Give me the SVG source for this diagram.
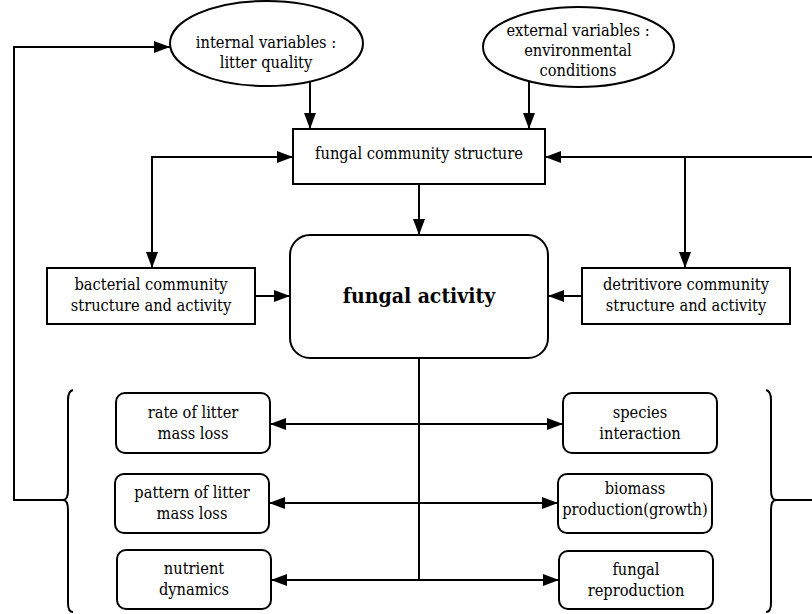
<svg xmlns="http://www.w3.org/2000/svg" width="812" height="614" viewBox="0 0 812 614">
<style>
.shape{fill:#fff;stroke:#000;stroke-width:2}
.ln{fill:none;stroke:#000;stroke-width:2}
</style>
<defs>
<marker id="ah" viewBox="0 0 16 12" markerWidth="16" markerHeight="12" refX="16" refY="6" markerUnits="userSpaceOnUse" orient="auto-start-reverse">
<path d="M0,0 L16,6 L0,12 Z" fill="#000"/>
</marker>
</defs>
<rect width="812" height="614" fill="#fff"/>
<g id="connectors">
<path class="ln" d="M63,500 L14,500 L14,47 L170,47" marker-end="url(#ah)"/>
<path class="ln" d="M310,82 L310,129" marker-end="url(#ah)"/>
<path class="ln" d="M529,81 L529,129" marker-end="url(#ah)"/>
<path class="ln" d="M293,157 L152,157 L152,268" marker-start="url(#ah)" marker-end="url(#ah)"/>
<path class="ln" d="M812,157 L545,157" marker-end="url(#ah)"/>
<path class="ln" d="M685,157 L685,268" marker-end="url(#ah)"/>
<path class="ln" d="M419,184 L419,235" marker-end="url(#ah)"/>
<path class="ln" d="M255,296 L290,296" marker-end="url(#ah)"/>
<path class="ln" d="M582,296 L548,296" marker-end="url(#ah)"/>
<path class="ln" d="M419,358 L419,580"/>
<path class="ln" d="M270,424 L563,424" marker-start="url(#ah)" marker-end="url(#ah)"/>
<path class="ln" d="M269,503 L558,503" marker-start="url(#ah)" marker-end="url(#ah)"/>
<path class="ln" d="M271,580 L559,580" marker-start="url(#ah)" marker-end="url(#ah)"/>
<path class="ln" d="M775,500 L812,500"/>
<path class="ln" d="M73,390 Q68,391 68,400 L68,490 Q68,500 63,500 Q68,500 68,510 L68,603 Q68,612 73,612"/>
<path class="ln" d="M766,390 Q771,391 771,400 L771,490 Q771,500 776,500 Q771,500 771,510 L771,603 Q771,612 766,612"/>
</g>
<g font-family="DejaVu Serif Condensed, DejaVu Serif, serif" font-stretch="condensed" font-size="16.3" fill="#000" text-anchor="middle">
<g id="internal">
<ellipse class="shape" cx="266.5" cy="43.5" rx="96.5" ry="42.5"/>
<text x="266" y="48">internal variables :</text>
<text x="266" y="68">litter quality</text>
</g>
<g id="external">
<ellipse class="shape" cx="578.5" cy="47" rx="95.5" ry="40"/>
<text x="578" y="36">external variables :</text>
<text x="578" y="56">environmental</text>
<text x="578" y="76">conditions</text>
</g>
<g id="fungal-community">
<rect class="shape" x="293" y="129" width="252" height="55"/>
<text x="419" y="159">fungal community structure</text>
</g>
<g id="bacterial">
<rect class="shape" x="47" y="268" width="208" height="56"/>
<text x="151" y="290">bacterial community</text>
<text x="151" y="311">structure and activity</text>
</g>
<g id="fungal-activity">
<rect class="shape" x="290" y="235" width="258" height="123" rx="20" ry="20"/>
<text x="419" y="303" font-size="21" font-weight="bold">fungal activity</text>
</g>
<g id="detritivore">
<rect class="shape" x="582" y="268" width="208" height="56"/>
<text x="686" y="290">detritivore community</text>
<text x="686" y="311">structure and activity</text>
</g>
<g id="rate">
<rect class="shape" x="116" y="393" width="154" height="60" rx="9"/>
<text x="193" y="418">rate of litter</text>
<text x="193" y="439">mass loss</text>
</g>
<g id="pattern">
<rect class="shape" x="115" y="474" width="154" height="59" rx="9"/>
<text x="192" y="498">pattern of litter</text>
<text x="192" y="519">mass loss</text>
</g>
<g id="nutrient">
<rect class="shape" x="117" y="550" width="154" height="59" rx="9"/>
<text x="194" y="574">nutrient</text>
<text x="194" y="595">dynamics</text>
</g>
<g id="species">
<rect class="shape" x="563" y="393" width="154" height="60" rx="9"/>
<text x="640" y="418">species</text>
<text x="640" y="439">interaction</text>
</g>
<g id="biomass">
<rect class="shape" x="558" y="474" width="154" height="59" rx="9"/>
<text x="635" y="494">biomass</text>
<text x="635" y="515">production(growth)</text>
</g>
<g id="reproduction">
<rect class="shape" x="559" y="551" width="154" height="58" rx="9"/>
<text x="636" y="575">fungal</text>
<text x="636" y="596">reproduction</text>
</g>
</g>
</svg>
